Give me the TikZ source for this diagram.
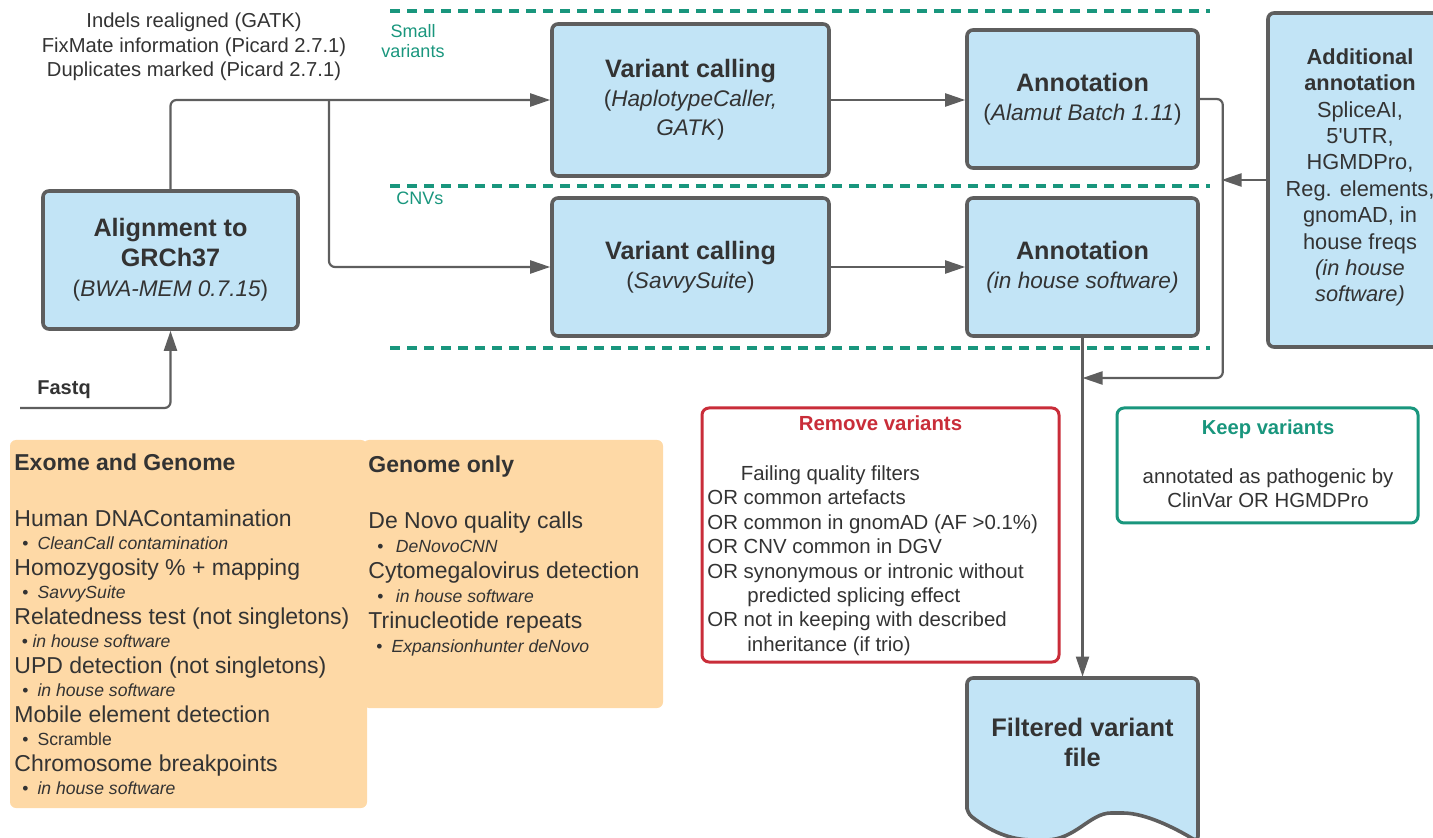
\documentclass[tikz,border=0pt]{standalone}
\usepackage{fontspec}
\setmainfont{Liberation Sans}
\usetikzlibrary{arrows.meta}
\definecolor{boxblue}{RGB}{194,228,246}
\definecolor{linegray}{RGB}{94,94,94}
\definecolor{textgray}{RGB}{51,51,51}
\definecolor{sepgreen}{RGB}{25,150,125}
\definecolor{alertred}{RGB}{201,45,57}
\definecolor{panelorange}{RGB}{254,217,166}
\newcommand{\fsz}[2]{\fontsize{#1}{#2}\selectfont}
\newcommand{\bul}[2]{\hspace*{#1}\textbullet\hspace*{#2}}
\begin{document}
\begin{tikzpicture}[x=0.5pt,y=-0.5pt,
  box/.style={draw=linegray, line width=1.8pt, fill=boxblue, rounded corners=3pt, align=center, text=textgray, inner sep=0pt, font=\fsz{11.3}{14.4}},
  flow/.style={draw=linegray, line width=1.1pt, rounded corners=3pt, -{Triangle[length=10pt,width=6.5pt]}},
  sep/.style={draw=sepgreen, line width=1.6pt, dash pattern=on 5pt off 3.5pt},
  panel/.style={fill=panelorange, rounded corners=3pt, inner sep=0pt},
  note/.style={text=textgray, inner sep=0pt},
  frame/.style={line width=1.5pt, rounded corners=3.5pt, inner sep=0pt}]
\useasboundingbox (0,0) rectangle (1433,838);

% lanes
\foreach \y in {11,186,348}
  \draw[sep] (390,\y) -- (1210,\y);
\node[note, anchor=north, align=center, text=sepgreen, font=\fsz{9}{10.3}] (smalllbl) at (413,23.8) {Small\\variants};
\node[note, anchor=base west, text=sepgreen, font=\fsz{9}{10}] (cnvlbl) at (396,205) {CNVs};

% pipeline
\node[box, minimum width=127.5pt, minimum height=69pt, font=\fsz{11.3}{15}] (align) at (170.5,260)
  {{\bfseries\fsz{12.6}{15}Alignment to}\\{\bfseries\fsz{12.6}{15}GRCh37}\\(\textit{BWA-MEM 0.7.15})};
\node[box, minimum width=138.5pt, minimum height=76pt] (varS) at (690.5,100)
  {{\bfseries\fsz{12.6}{14}Variant calling}\\(\textit{HaplotypeCaller,}\\\textit{GATK})};
\node[box, minimum width=115.5pt, minimum height=69pt] (annS) at (1082.5,99)
  {{\bfseries\fsz{12.6}{14}Annotation}\\(\textit{Alamut Batch 1.11})};
\node[box, minimum width=138.5pt, minimum height=69pt] (varC) at (690.5,267)
  {{\bfseries\fsz{12.6}{14}Variant calling}\\(\textit{SavvySuite})};
\node[box, minimum width=115.5pt, minimum height=69pt] (annC) at (1082.5,267)
  {{\bfseries\fsz{12.6}{14}Annotation}\\\textit{(in house software)}};
\node[box, minimum width=92pt, minimum height=167pt] (addl) at (1360,180) {};
\node[note, anchor=north, align=center, font=\fsz{10.9}{13.2}] (addltxt) at (1360,48.2)
  {{\bfseries Additional}\\{\bfseries annotation}\\SpliceAI,\\5\textquotesingle UTR,\\HGMDPro,\\Reg. elements,\\gnomAD, in\\house freqs\\\textit{(in house}\\\textit{software)}};

\draw[linegray, line width=1.8pt, fill=boxblue, rounded corners=3pt]
  (967,813) -- (967,678) -- (1198,678) -- (1198,842)
  .. controls (1175,828) and (1145,813) .. (1117,813)
  .. controls (1090,813) and (1075,840) .. (1040,840)
  .. controls (1015,840) and (995,835) .. (967,813) -- cycle;
\node[note, minimum width=115.5pt, minimum height=65pt, align=center, font=\bfseries\fsz{12.7}{15}] (filtered) at (1082.5,742) {Filtered variant\\file};

\node[note, anchor=north, align=center, font=\fsz{10.1}{12.2}] (steps) at (194,12.6)
  {Indels realigned (GATK)\\FixMate information (Picard 2.7.1)\\Duplicates marked (Picard 2.7.1)};
\node[note, anchor=base west, font=\bfseries\fsz{10}{12}] (fastqlbl) at (37,395) {Fastq};

% connectors
\coordinate (fastqin) at (20,408);
\coordinate (split) at (329,100);
\coordinate (merge) at (1082.5,378);
\coordinate (feed) at (1221.5,180);
\draw[flow] (fastqin) -| (align.south);
\draw[flow] (align.north) |- (varS.west);
\draw[flow] (split) |- (varC.west);
\draw[flow] (varS.east) -- (varS.east -| annS.west);
\draw[flow] (varC.east) -- (annC.west);
\draw[flow] (annS.east) -- ++(23,0) |- (merge);
\draw[flow] (addl.west) -- (feed);
\draw[flow] (annC.south) -- (filtered.north);

% QC panels
\node[panel, minimum width=150pt, minimum height=134pt] (genonly) at (513,574) {};
\node[panel, minimum width=178.5pt, minimum height=184pt] (exgen) at (188.5,624) {};
\node[note, anchor=north west, align=left, font=\fsz{11.5}{11.65}] (exgentxt) at (14,453.5)
  {{\bfseries Exome and Genome}\\[16.35pt]
   Human DNAContamination\\
   {\fsz{8.8}{11.65}\bul{4pt}{4.5pt}\textit{CleanCall contamination}}\\[1.2pt]
   Homozygosity \% + mapping\\
   {\fsz{8.8}{11.65}\bul{4pt}{4.5pt}\textit{SavvySuite}}\\[1.2pt]
   Relatedness test (not singletons)\\
   {\fsz{8.8}{11.65}\bul{3.7pt}{2.3pt}\textit{in house software}}\\[1.2pt]
   UPD detection (not singletons)\\
   {\fsz{8.8}{11.65}\bul{4pt}{4.5pt}\textit{in house software}}\\[1.2pt]
   Mobile element detection\\
   {\fsz{8.8}{11.65}\bul{4pt}{4.5pt}Scramble}\\[1.2pt]
   Chromosome breakpoints\\
   {\fsz{8.8}{11.65}\bul{4pt}{4.5pt}\textit{in house software}}};
\node[note, anchor=north west, align=left, font=\fsz{11.5}{12}] (genonlytxt) at (368,455.2)
  {{\bfseries Genome only}\\[16pt]
   De Novo quality calls\\
   {\fsz{8.8}{12}\bul{4.5pt}{6.2pt}\textit{DeNovoCNN}}\\[1pt]
   Cytomegalovirus detection\\
   {\fsz{8.8}{12}\bul{4.5pt}{6.2pt}\textit{in house software}}\\[1pt]
   Trinucleotide repeats\\
   {\fsz{8.8}{12}\bul{4pt}{4.5pt}\textit{Expansionhunter deNovo}}};

% filters
\node[frame, draw=alertred, minimum width=178.5pt, minimum height=127pt] (remove) at (880.5,535) {};
\node[note, anchor=base, text=alertred, font=\bfseries\fsz{10.2}{12.2}] (removettl) at (880.5,431) {Remove variants};
\node[note, anchor=north west, align=left, font=\fsz{10.2}{12.2}] (removetxt) at (707,465.4)
  {\hspace*{16.7pt}Failing quality filters\\
   OR common artefacts\\
   OR common in gnomAD (AF >0.1\%)\\
   OR CNV common in DGV\\
   OR synonymous or intronic without\\
   \hspace*{20pt}predicted splicing effect\\
   OR not in keeping with described\\
   \hspace*{20pt}inheritance (if trio)};
\node[frame, draw=sepgreen, minimum width=150.5pt, minimum height=57.5pt] (keep) at (1267.5,465.5) {};
\node[note, anchor=base, text=sepgreen, font=\bfseries\fsz{10.1}{12}] (keepttl) at (1268,434.3) {Keep variants};
\node[note, anchor=north, align=center, font=\fsz{10.2}{12}] (keeptxt) at (1268,468.6)
  {annotated as pathogenic by\\ClinVar OR HGMDPro};
\end{tikzpicture}
\end{document}
